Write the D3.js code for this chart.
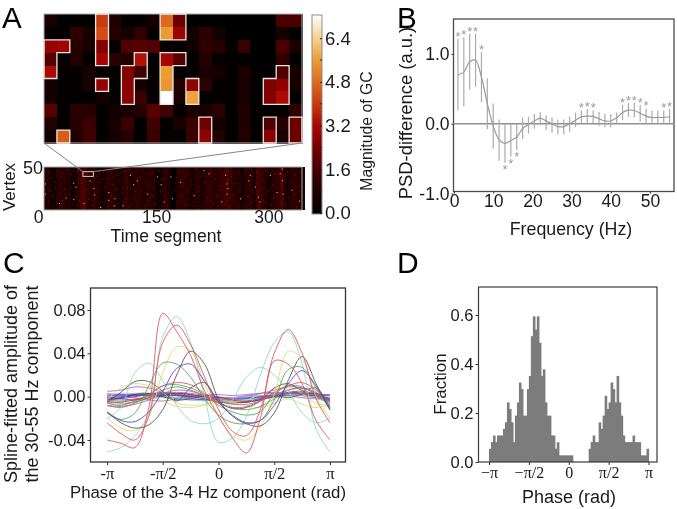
<!DOCTYPE html>
<html>
<head>
<meta charset="utf-8">
<script src="https://cdn.jsdelivr.net/npm/d3@7"></script>
<style>
html, body { margin: 0; padding: 0; background: #fff; }
svg { display: block; filter: blur(0.4px); font-family: "Liberation Sans", Arial, sans-serif; }
.domain { display: none; }
</style>
</head>
<body>
<div id="chart"></div>
<script>
// panel A, zoomed heat map (rows top to bottom, 20 columns)
const gcCells = [
  [.7,.1,.1,.1,4.0,.9,.1,.1,.6,4.8,2.2,0,0,0,0,0,0,0,1.7,1.7],
  [.1,.1,1.2,.7,4.3,1.0,.7,1.2,.1,5.6,3.0,.6,1.1,.6,0,0,0,0,.6,.1],
  [2.9,3.1,1.0,.7,2.6,.1,1.8,1.9,1.8,.2,.2,.5,1.2,1.0,.1,1.4,0,0,1.7,.8],
  [1.9,.1,.9,.1,3.2,1.1,.9,3.4,.1,3.2,1.9,.1,1.0,.2,.1,.1,0,0,1.2,.1],
  [3.3,.1,.1,.7,.1,.1,2.6,1.5,.1,5.6,.2,.1,.8,.6,.1,.8,.1,0,1.8,.7],
  [.6,.1,.1,.7,2.9,.1,2.7,.6,.1,5.5,.9,2.8,1.1,.1,.1,.7,.1,2.5,2.8,.7],
  [.6,.1,.1,.1,.6,.1,2.7,1.4,.1,7.25,.8,5.7,.1,.1,.1,.7,.1,2.6,3.3,.1],
  [1.9,.1,1.1,1.0,.1,.5,.7,1.0,1.9,1.5,.1,.8,.7,1.1,.1,.9,.1,0,.1,1.2],
  [.9,.1,1.0,1.4,.1,.7,1.4,.1,1.5,.1,.7,1.4,2.3,.6,.1,.9,.1,1.8,1.0,2.2],
  [.5,4.6,.9,1.5,.1,.6,1.0,.1,1.4,.1,.1,1.4,2.8,.9,.1,.9,.1,2.7,.8,2.2]
];
// outlined clusters as [column, row]
const gcClusters = [
  [[4,0],[4,1],[4,2],[4,3]],
  [[9,0],[10,0],[9,1],[10,1]],
  [[0,2],[1,2],[0,3],[0,4]],
  [[7,3],[6,4],[7,4],[6,5],[6,6]],
  [[9,3],[10,3],[9,4],[9,5],[9,6]],
  [[11,5],[11,6]],
  [[4,5]],
  [[1,9]],
  [[12,8],[12,9]],
  [[17,8],[17,9]],
  [[19,8],[19,9]],
  [[18,4],[17,5],[18,5],[17,6],[18,6]]
];
const gcTicks = [0, 1.6, 3.2, 4.8, 6.4];
const gcMinorTicks = [.8, 2.4, 4, 5.6];

// panel A, full raster: mean level per 4 time segments
const segMeans = [1.0,1.1,.5,.5,1.0,1.2,1.1,.9,1.0,.4,
  .6,1.2,1.6,1.8,1.1,1.0,1.3,1.0,.9,.5,
  .7,1.2,1.1,1.0,.9,.5,1.1,1.3,1.0,.9,
  1.1,1.2,1.0,.9,1.1,1.2,1.0,.5,.4,.9,
  1.1,1.0,.2,.1,1.0,1.2,1.1,1.2,1.0,.5,
  1.0,1.1,.6,1.0,1.2,1.3,1.1,1.0,1.2,1.3,
  1.4,1.7,1.3,1.1,1.0,1.0,.5,1.0,1.2,1.2,
  .6,1.6,1.5,1.2,1.0,.5,1.0,1.2,1.2,1.8,
  1.1,.5,1.0,1.2,1.1,1.0,.9];
const brightSpots = [[39,35],[42,30],[1,34],[20,9],[53,9],[66,28],[67,20],[86,23],[94,15],[105,6],[138,21],[119,33],[156,33],[160,11],[115,45],[151,43],[169,43],[171,15],[1,21],[29,16],[39,14],[86,13],[124,38],[61,38],[75,4],[93,6],
  [220,47],[242,45],[275,45],[318,53],[200,19],[244,34],[245,28],[244,21],[262,15],[286,17],[288,11],[311,23],[318,38],[319,21],[331,26],[341,12],[213,51],[273,38],[182,36],[237,11],[315,47],[282,30],[302,45]];
const midSpots = [[50,6],[50,11],[51,16],[50,21],[49,25],[51,30],[50,35],[52,3],[50,40],[5,48],[9,42],[13,37],[17,50],[22,44],[26,39],[31,52],[35,46],[44,50],[46,41],[57,47],[63,51],[70,44],[74,36],[79,49],[83,41],[88,52],[92,33],[97,45],[101,39],[107,50],[111,28],[117,48],[122,24],[127,43],[131,52],[136,36],[141,47],[146,29],[153,51],[158,40],[163,48],[176,42],[180,50],[186,31],[191,46],[196,38],[203,53],[208,44],[215,36],[223,49],[228,40],[233,52],[241,8],[244,13],[245,39],[244,46],[243,51],[250,43],[255,35],[259,48],[265,40],[269,52],[278,44],[283,36],[285,25],[284,49],[291,39],[296,51],[305,33],[308,47],[318,8],[319,14],[318,28],[317,33],[320,44],[325,50],[328,36],[335,45],[339,31],[343,49],
  [7,26],[11,18],[15,29],[19,22],[24,13],[27,27],[33,20],[37,8],[42,18],[47,12],[56,27],[59,14],[64,6],[69,17],[72,24],[77,10],[81,30],[85,5],[90,18],[96,27],[99,9],[103,22],[109,14],[113,4],[118,17],[125,10],[129,25],[134,5],[139,13],[144,19],[148,8],[155,24],[161,18],[165,6],[174,26],[178,12],[184,20],[189,7],[193,28],[198,11],[205,24],[210,6],[217,17],[221,27],[226,9],[231,19],[236,26],[248,5],[252,20],[257,9],[261,27],[267,6],[272,18],[276,10],[280,22],[287,5],[293,13],[298,24],[303,7],[307,17],[313,11],[322,5],[326,17],[330,10],[334,20],[337,5],[342,24]];
const dimSpots = [[3,40],[6,12],[10,31],[12,6],[16,44],[18,15],[21,33],[23,5],[25,48],[28,21],[30,37],[34,11],[36,29],[38,50],[41,24],[43,7],[45,34],[48,45],[52,18],[54,37],[55,10],[58,33],[60,22],[62,44],[65,13],[67,41],[68,4],[71,30],[73,51],[76,19],[78,40],[80,8],[82,25],[84,46],[87,34],[89,11],[91,43],[94,24],[95,6],[98,37],[100,16],[102,49],[104,30],[106,11],[108,41],[110,22],[112,53],[114,33],[116,8],[119,42],[120,14],[123,51],[126,31],[128,17],[130,40],[133,23],[135,47],[137,8],[140,33],[142,16],[145,50],[147,38],[149,22],[152,11],[154,34],[157,5],[159,27],[162,44],[164,15],[175,35],[177,7],[179,47],[181,19],[183,30],[185,9],[187,43],[190,25],[192,14],[194,50],[197,33],[199,6],[201,41],[204,16],[206,31],[209,52],[211,21],[214,10],[216,43],[218,28],[222,13],[224,37],[227,20],[229,47],[232,5],[234,31],[238,42],[240,18],[243,29],[246,37],[247,16],[249,50],[251,28],[254,12],[256,41],[258,23],[260,5],[263,33],[266,18],[268,46],[270,29],[271,8],[274,41],[277,25],[279,51],[281,13],[285,37],[286,8],[289,27],[290,46],[292,19],[294,36],[297,9],[299,43],[301,28],[304,14],[306,50],[309,32],[310,6],[312,41],[314,22],[316,35],[317,12],[319,45],[321,25],[323,38],[324,9],[327,29],[329,49],[332,14],[333,36],[336,23],[338,42],[340,11],[341,33],[344,18]];
const rasterZoomBox = { seg: [52, 66], vertex: [43, 49] };
const rasterTicks = [0, 150, 300];

// panel B
const psdFreq = [1,2.5,4,5.5,7,8.5,10,11.5,13,14.5,16,17.5,19,20.5,22,23.5,25,26.5,28,29.5,31,32.5,34,35.5,37,38.5,40,41.5,43,44.5,46,47.5,49,50.5,52,53.5,55];
const psdMean = [.70,.74,.89,.91,.67,.29,-.03,-.23,-.28,-.24,-.19,-.07,-.01,.04,.08,.04,0,-.04,-.04,0,.05,.10,.11,.105,.07,.04,.04,.085,.16,.195,.19,.15,.11,.09,.09,.09,.10];
const psdHi = [1.22,1.24,1.29,1.29,1.03,.65,.29,.06,0,0,0,.09,.10,.14,.17,.12,.09,.06,.06,.10,.16,.19,.21,.195,.17,.14,.14,.16,.27,.30,.30,.27,.22,.19,.19,.19,.21];
const psdLo = [.19,.25,.49,.53,.31,-.08,-.36,-.53,-.56,-.47,-.38,-.22,-.14,-.07,-.02,-.09,-.13,-.15,-.15,-.11,-.05,0,.01,.01,-.03,-.05,-.05,0,.05,.10,.09,.03,0,0,0,0,0];
const starsAbove = [1,2.5,4,5.5,7,32.5,34,35.5,43,44.5,46,47.5,49,53.5,55];
const starsBelow = [13,14.5,16];
const psdXTicks = [0,10,20,30,40,50];
const psdYTicks = [1,0,-1];

// panel C, values in thousandths at the knots of phaseKnots
const piSteps = [-8,-7,-6,-5,-4,-3,-2,-1,0,1,2,3,4,5,6,7,8];
const phaseKnots = piSteps.map(k => k * Math.PI / 8);
const colBlue = "#4a42d8", colGreen = "#5a9a5a", colRed = "#dc5058", colCyan = "#86d8d0", colMag = "#bc58c8", colYel = "#dcdc70", colBlack = "#505050";
const redA = [-40,-43,-47,-10,77,60,38,5,-18,-38,-52,-20,33,30,12,-22,-40];
const redB = [-24,-34,-40,-18,50,66,48,18,-12,-32,-36,-12,40,62,40,-2,-24];
const cyanA = [-51,-47,-36,-15,55,74,50,0,-42,-38,-18,20,50,60,30,-30,-51];
const cyanB = [-20,-10,22,31,15,-8,-22,-25,-20,-3,18,27,20,5,-15,-24,-20];
const yellowA = [-19,-29,-31,-18,22,46,42,12,-18,-36,-40,-28,2,42,35,0,-20];
const blackA = [-14,-24,-29,-26,-12,20,42,30,-2,-18,-25,-27,-15,15,37,12,-12];
const greenA = [-15,-21,-15,10,31,30,18,-2,-17,-24,-25,-22,-3,25,27,8,-12];
const blueA = [-14,-22,-23,-14,5,26,30,14,-5,-17,-24,-22,-8,12,24,10,-12];
const blackB = [-5,4,14,14,5,-4,8,13,-4,-11,-10,-4,8,12,6,8,-10];
const greenB = [-8,-10,-6,2,10,11,8,2,-8,-14,-17,-14,2,10,9,2,-9];
const redC = [-6,-8,-4,2,10,13,11,3,-6,-10,-9,-4,4,10,13,6,-5];
const yellowB = [-3,8,12,10,4,-6,-8,-7,-4,-5,-3,2,7,9,3,-6,-8];
const magA = [5,6,9,8,4,2,1,-1,-3,-2,0,3,6,9,8,3,1];
const blueB = [2,2,2,1,0,-1,-2,-3,-4,-3,-2,0,2,3,3,2,2];
const blueC = [-1,0,2,3,3,2,1,0,-1,-2,-2,-1,0,1,1,0,-1];
const blackC = [-5,-5,-3,-1,2,3,2,0,-3,-5,-5,-3,1,4,5,2,-4];
const magB = [3,1,-1,-3,-4,-2,0,2,2,1,2,3,3,1,-1,-2,-4];
const cyanC = [2,3,3,2,1,-1,-3,-4,-3,-1,0,1,2,2,1,0,0];
const blueD = [0,-2,-3,-2,1,3,2,-1,-4,-5,-4,-2,1,3,3,0,-2];
const magC = [-8,-9,-7,-3,3,6,5,1,-4,-7,-7,-4,2,6,8,3,-7];
const blackD = [-2,-1,1,2,1,1,0,-2,-5,-6,-5,-3,0,3,4,1,-3];
const greenC = [-4,-6,-5,-1,6,9,6,1,-6,-10,-12,-9,-2,6,8,4,-6];
const blueE = [1,1,1,2,2,1,0,0,-1,-1,0,1,1,2,1,1,1];
const redD = [-3,-4,-2,0,3,4,3,1,-2,-3,-4,-2,1,3,3,1,-3];
const magD = [-1,1,3,3,1,-2,-3,-3,-2,-1,1,3,4,3,1,-1,-2];
const blueF = [-3,-2,0,2,4,2,-1,-3,-3,-2,-1,0,0,2,2,-1,-3];
const cyanD = [-6,-7,-5,-2,-1,-3,-2,-1,-2,-3,-3,-2,-1,0,1,-2,-5];
const yellowC = [-9,-9,-6,0,-4,-9,-10,-8,-3,-5,-8,-10,-6,-2,-7,-10,-7];
const blackE = [-3,-1,2,3,0,-3,-2,1,0,-3,-5,-2,1,-1,2,3,-3];
const phaseSeries = [
  [blueF,colBlue],[blueD,colBlue],[blueC,colBlue],[blueB,colBlue],[blueE,colBlue],
  [magA,colMag],[magD,colMag],[magB,colMag],[cyanC,colCyan],[cyanD,colCyan],
  [blackC,colBlack],[blackE,colBlack],[blackD,colBlack],
  [yellowB,colYel],[yellowC,colYel],[greenB,colGreen],[greenC,colGreen],[blackB,colBlack],[redC,colRed],[redD,colRed],[magC,colMag],
  [cyanB,colCyan],[cyanA,colCyan],[yellowA,colYel],[greenA,colGreen],[blueA,colBlue],[blackA,colBlack],[redB,colRed],[redA,colRed]
];
const ampTicks = [-.04,0,.04,.08];
const phaseTicksC = [[-Math.PI,"-π"],[-Math.PI/2,"-π/2"],[0,"0"],[Math.PI/2,"π/2"],[Math.PI,"π"]];

// panel D, number of vertices per phase bin out of histTotal
const histTotal = 37;
const histCounts = [2,3,4,3,4,4,4,5,6,9,8,6,3,7,9,12,11,7,7,11,13,19,22,20,22,18,13,14,9,7,7,4,4,2,3,1,1,1,1,1,1,1,
  0,0,0,0,0,0,0,0,
  2,3,4,3,3,6,5,7,10,8,9,12,11,9,13,9,7,4,3,3,3,3,4,3,3,3,1,1,1,2];
const fracTicks = [0,.2,.4,.6];
const phaseTicksD = [[-Math.PI,"−π"],[-Math.PI/2,"−π/2"],[0,"0"],[Math.PI/2,"π/2"],[Math.PI,"π"]];

const svg = d3.select("#chart").append("svg").attr("width", 677).attr("height", 509);
const sans = "Liberation Sans", serif = "Liberation Serif";
const hyphenFormat = spec => v => d3.format(spec)(v).replace("−", "-");

const gcColor = d3.scaleLinear()
  .domain([0, .8, 1.6, 2.4, 3.2, 4, 4.8, 5.6, 6.4, 7.25])
  .range(["#000000","#1c0000","#430000","#780000","#a80404","#c83a10","#dc6a1c","#ec9c34","#f6d090","#ffffff"]);

function label(x, y, str, size, opt) {
  opt = opt || {};
  const t = svg.append("text").attr("x", x).attr("y", y).attr("font-size", size)
    .attr("fill", opt.fill || "#1a1a1a").attr("text-anchor", opt.anchor || "middle").text(str);
  if (opt.rotate) t.attr("transform", `rotate(-90,${x},${y})`);
  return t;
}
function styleAxis(g, size, family, col) {
  g.selectAll("text").attr("font-size", size).attr("font-family", family).attr("fill", "#1a1a1a");
  g.selectAll("line").attr("stroke", col || "#333").attr("stroke-width", 1);
}

/* ---------- A ---------- */
const ax = d3.scaleLinear().domain([0, 20]).range([44, 302]);
const ay = d3.scaleLinear().domain([0, 10]).range([14, 143]);
gcCells.forEach((row, r) => {
  svg.append("g").attr("shape-rendering", "crispEdges").selectAll("rect").data(row).enter().append("rect")
    .attr("x", (d, c) => ax(c)).attr("y", ay(r))
    .attr("width", ax(1) - ax(0) + .5).attr("height", ay(1) - ay(0) + .5)
    .attr("fill", d => gcColor(d));
});
svg.append("rect").attr("x", ax(0)).attr("y", ay(0)).attr("width", ax(20) - ax(0)).attr("height", ay(10) - ay(0))
  .attr("fill", "none").attr("stroke", "#b0b0b0").attr("stroke-width", 1);
gcClusters.forEach(cl => {
  const has = (c, r) => cl.some(p => p[0] === c && p[1] === r);
  let d = "";
  cl.forEach(([c, r]) => {
    if (!has(c, r - 1)) d += `M${ax(c)},${ay(r)}H${ax(c + 1)}`;
    if (!has(c, r + 1)) d += `M${ax(c)},${ay(r + 1)}H${ax(c + 1)}`;
    if (!has(c - 1, r)) d += `M${ax(c)},${ay(r)}V${ay(r + 1)}`;
    if (!has(c + 1, r)) d += `M${ax(c + 1)},${ay(r)}V${ay(r + 1)}`;
  });
  svg.append("path").attr("d", d).attr("fill", "none").attr("stroke", "#e6e6e0").attr("stroke-width", 1.3).attr("stroke-linecap", "square");
});

// full raster
const sx = d3.scaleLinear().domain([0, 345]).range([44, 302]);
const sy = d3.scaleLinear().domain([0, 55]).range([210, 167]);
svg.append("g").attr("shape-rendering", "crispEdges").selectAll("rect").data(segMeans).enter().append("rect")
  .attr("x", (d, i) => sx(i * 4)).attr("y", sy(55))
  .attr("width", sx(4) - sx(0) + .5).attr("height", sy(0) - sy(55))
  .attr("fill", d => gcColor(d * .95));
[[dimSpots, gcColor(2.2)], [midSpots, gcColor(3.2)], [brightSpots, "#e8b0a0"]].forEach(layer => {
  svg.append("g").selectAll("rect").data(layer[0]).enter().append("rect")
    .attr("x", d => sx(d[0])).attr("y", d => sy(d[1]))
    .attr("width", sx(1.5) - sx(0)).attr("height", sy(0) - sy(1.4))
    .attr("fill", layer[1]);
});
svg.append("rect").attr("x", sx(0)).attr("y", sy(55)).attr("width", sx(345) - sx(0)).attr("height", sy(0) - sy(55))
  .attr("fill", "none").attr("stroke", "#a8a8a8").attr("stroke-width", 1);
svg.append("rect").attr("x", sx(rasterZoomBox.seg[0])).attr("y", sy(rasterZoomBox.vertex[1]))
  .attr("width", sx(rasterZoomBox.seg[1]) - sx(rasterZoomBox.seg[0])).attr("height", sy(rasterZoomBox.vertex[0]) - sy(rasterZoomBox.vertex[1]))
  .attr("fill", "none").attr("stroke", "#d0d0d0").attr("stroke-width", 1);
[[ax(0), sx(rasterZoomBox.seg[0])], [ax(20), sx(rasterZoomBox.seg[1])]].forEach(p => {
  svg.append("line").attr("x1", p[0]).attr("y1", ay(10)).attr("x2", p[1]).attr("y2", sy(rasterZoomBox.vertex[1]))
    .attr("stroke", "#858585").attr("stroke-width", 1);
});
const rasterAxis = svg.append("g").attr("transform", `translate(0,${sy(0)})`)
  .call(d3.axisBottom(sx).tickValues(rasterTicks).tickSize(0).tickPadding(1));
styleAxis(rasterAxis, 17.5, sans);
rasterAxis.selectAll("text").filter(d => d === 0).attr("dx", -6);
label(23, 174, "50", 18, { anchor: "start" });
label(15, 187, "Vertex", 17, { rotate: true });
label(166, 242, "Time segment", 17.6);

// colour bar
const cy = d3.scaleLinear().domain([0, 7.25]).range([213, 15]);
const defs = svg.append("defs");
const grad = defs.append("linearGradient").attr("id", "gcGrad").attr("x1", 0).attr("y1", 1).attr("x2", 0).attr("y2", 0);
gcColor.domain().forEach(v => {
  grad.append("stop").attr("offset", v / 7.25).attr("stop-color", gcColor(v));
});
svg.append("rect").attr("x", 312).attr("y", cy(7.25)).attr("width", 10).attr("height", 199)
  .attr("fill", "url(#gcGrad)").attr("stroke", "#8c8c8c").attr("stroke-width", 1);
const cbAxis = svg.append("g").attr("transform", "translate(322,0)")
  .call(d3.axisRight(cy).tickValues(gcTicks).tickFormat(d3.format(".1f")).tickSize(-2).tickPadding(3));
styleAxis(cbAxis, 18.5, sans, "#222");
svg.append("g").selectAll("line").data(gcMinorTicks).enter().append("line")
  .attr("x1", 320).attr("x2", 322).attr("y1", d => cy(d)).attr("y2", d => cy(d)).attr("stroke", "#222");
label(372, 131, "Magnitude of GC", 15.8, { rotate: true });

/* ---------- B ---------- */
const bx = d3.scaleLinear().domain([0, 50]).range([454, 650]);
const by = d3.scaleLinear().domain([-1, 1]).range([193.5, 54]);
svg.append("rect").attr("x", 453.5).attr("y", 19).attr("width", 220.5).attr("height", 172.5)
  .attr("fill", "none").attr("stroke", "#4a4a4a").attr("stroke-width", 1.3);
svg.append("line").attr("x1", 453.5).attr("x2", 674).attr("y1", by(0)).attr("y2", by(0)).attr("stroke", "#8f8f8f").attr("stroke-width", 1.5);
svg.append("g").selectAll("line").data(psdFreq).enter().append("line")
  .attr("x1", d => bx(d)).attr("x2", d => bx(d))
  .attr("y1", (d, i) => by(psdHi[i])).attr("y2", (d, i) => by(psdLo[i]))
  .attr("stroke", "#ababab").attr("stroke-width", 1.2);
svg.append("path").datum(psdFreq)
  .attr("d", d3.line().x(d => bx(d)).y((d, i) => by(psdMean[i])).curve(d3.curveCatmullRom))
  .attr("fill", "none").attr("stroke", "#9a9a9a").attr("stroke-width", 1.2);
svg.append("g").selectAll("text").data(starsAbove).enter().append("text")
  .attr("x", d => bx(d)).attr("y", d => by(psdHi[psdFreq.indexOf(d)]) + 2)
  .attr("text-anchor", "middle").attr("font-size", 13).attr("fill", "#999").text("*");
svg.append("g").selectAll("text").data(starsBelow).enter().append("text")
  .attr("x", d => bx(d)).attr("y", d => by(psdLo[psdFreq.indexOf(d)]) + 11)
  .attr("text-anchor", "middle").attr("font-size", 13).attr("fill", "#999").text("*");
const bxAxis = svg.append("g").attr("transform", "translate(0,191.5)")
  .call(d3.axisBottom(bx).tickValues(psdXTicks).tickSize(2).tickPadding(1));
styleAxis(bxAxis, 17.5, sans);
const byAxis = svg.append("g").attr("transform", "translate(453.5,0)")
  .call(d3.axisLeft(by).tickValues(psdYTicks).tickFormat(hyphenFormat(".1f")).tickSize(2).tickPadding(2));
styleAxis(byAxis, 17.5, sans);
label(412, 113, "PSD-difference (a.u.)", 18.4, { rotate: true });
label(571, 235, "Frequency (Hz)", 17.8);

/* ---------- C ---------- */
const cxs = d3.scaleLinear().domain([-Math.PI, Math.PI]).range([107, 330]);
const cys = d3.scaleLinear().domain([-.04, .08]).range([440, 310]);
const phaseLine = d3.line().x((d, i) => cxs(phaseKnots[i])).y(d => cys(d / 1000)).curve(d3.curveCatmullRom.alpha(.5));
svg.append("g").selectAll("path").data(phaseSeries).enter().append("path")
  .attr("d", d => phaseLine(d[0])).attr("fill", "none").attr("stroke", d => d[1]).attr("stroke-width", 1).attr("opacity", .85);
svg.append("rect").attr("x", 90.5).attr("y", 288).attr("width", 255).attr("height", 174)
  .attr("fill", "none").attr("stroke", "#333").attr("stroke-width", 1.3);
const cxAxis = svg.append("g").attr("transform", "translate(0,462)")
  .call(d3.axisBottom(cxs).tickValues(phaseTicksC.map(d => d[0])).tickFormat((d, i) => phaseTicksC[i][1]).tickSize(3).tickPadding(2));
styleAxis(cxAxis, 16.5, serif);
const cyAxis = svg.append("g").attr("transform", "translate(90.5,0)")
  .call(d3.axisLeft(cys).tickValues(ampTicks).tickFormat(hyphenFormat(".2f")).tickSize(3).tickPadding(2));
styleAxis(cyAxis, 16.5, sans);
label(17, 384, "Spline-fitted amplitude of", 18, { rotate: true });
label(38, 384, "the 30-55 Hz component", 18, { rotate: true });
label(208, 498, "Phase of the 3-4 Hz component (rad)", 16.8);

/* ---------- D ---------- */
const dx = d3.scaleLinear().domain([-Math.PI, Math.PI]).range([489, 648.5]);
const dy = d3.scaleLinear().domain([0, .6]).range([462, 315]);
const binW = 2 * Math.PI / histCounts.length;
svg.append("g").selectAll("rect").data(histCounts).enter().append("rect")
  .attr("x", (d, i) => dx(-Math.PI + i * binW)).attr("y", d => dy(d / histTotal))
  .attr("width", dx(binW) - dx(0) + .6).attr("height", d => dy(0) - dy(d / histTotal))
  .attr("fill", "#7c7c7c");
svg.append("rect").attr("x", 478.5).attr("y", 287).attr("width", 178.5).attr("height", 175)
  .attr("fill", "none").attr("stroke", "#3a3a3a").attr("stroke-width", 1.2);
const dxAxis = svg.append("g").attr("transform", "translate(0,462)")
  .call(d3.axisBottom(dx).tickValues(phaseTicksD.map(d => d[0])).tickFormat((d, i) => phaseTicksD[i][1]).tickSize(3).tickPadding(2));
styleAxis(dxAxis, 16, serif);
const dyAxis = svg.append("g").attr("transform", "translate(478.5,0)")
  .call(d3.axisLeft(dy).tickValues(fracTicks).tickFormat(d3.format(".1f")).tickSize(3).tickPadding(2));
styleAxis(dyAxis, 16.5, sans);
label(446, 384, "Fraction", 17, { rotate: true });
label(569, 503, "Phase (rad)", 18);

/* ---------- panel letters ---------- */
label(2, 28, "A", 29.5, { anchor: "start", fill: "#000" });
label(397, 28, "B", 29.5, { anchor: "start", fill: "#000" });
label(3, 273, "C", 30, { anchor: "start", fill: "#000" });
label(397, 273, "D", 30, { anchor: "start", fill: "#000" });
</script>
</body>
</html>
